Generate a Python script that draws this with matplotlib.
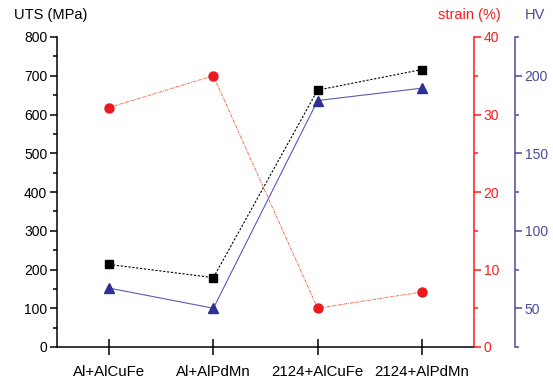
import numpy as np
import matplotlib
matplotlib.use("Agg")
import matplotlib.pyplot as plt
from matplotlib.ticker import MultipleLocator

plt.rcParams['font.family'] = ['Liberation Sans', 'DejaVu Sans']

samples = ["Al+AlCuFe", "Al+AlPdMn", "2124+AlCuFe", "2124+AlPdMn"]
uts = [213, 179, 663, 716]
strain = [30.9, 35.0, 5.0, 7.1]
hv = [63, 50, 184, 192]

red = '#ff1a1a'
blue = '#4b4ba0'

fig = plt.figure(figsize=(5.53, 3.80), dpi=100)
ax = fig.add_axes([57/553, 33/380, (474-57)/553, (347-37)/380])
x = np.arange(len(samples))

ax.plot(x, uts, color='black', ls=(0, (2, 1.5)), lw=0.8, marker='s', ms=5.5, zorder=3)
ax.set_xlim(-0.5, 3.5)
ax.set_ylim(0, 800)
ax.yaxis.set_major_locator(MultipleLocator(100))
ax.yaxis.set_minor_locator(MultipleLocator(50))
ax.set_xticks(x)
ax.set_xticklabels(samples, fontsize=10.8)
ax.tick_params(axis='x', direction='inout', length=12, width=1.1, pad=7)
ax.tick_params(axis='y', which='major', direction='out', length=5, width=1.1, labelsize=10, pad=2)
ax.tick_params(axis='y', which='minor', direction='out', length=3, width=1.1)
ax.spines['top'].set_visible(False)
ax.spines['right'].set_visible(False)
for s in ['left', 'bottom']:
    ax.spines[s].set_linewidth(1.1)

ax2 = ax.twinx()
ax2.plot(x, strain, color='#f26a4a', ls=(0, (3, 1, 1, 1)), lw=0.7, zorder=2)
ax2.plot(x, strain, ls='none', marker='o', ms=6.5, color='#e8191f', zorder=3)
ax2.set_ylim(0, 40)
ax2.yaxis.set_major_locator(MultipleLocator(10))
ax2.yaxis.set_minor_locator(MultipleLocator(5))
ax2.tick_params(axis='y', which='major', colors=red, direction='out', length=5, width=1.1, labelsize=10, pad=2)
ax2.tick_params(axis='y', which='minor', colors=red, direction='out', length=3, width=1.1)
ax2.spines['right'].set_color(red)
ax2.spines['right'].set_linewidth(1.1)
for s in ['top', 'left', 'bottom']:
    ax2.spines[s].set_visible(False)

ax3 = ax.twinx()
ax3.spines['right'].set_position(('axes', (515-57)/(474-57)))
ax3.plot(x, hv, color='#5a5ab4', lw=0.8, marker='^', ms=7, mfc='#2e3192', mec='#2e3192', zorder=3)
ax3.set_ylim(25, 225)
ax3.yaxis.set_major_locator(MultipleLocator(50))
ax3.yaxis.set_minor_locator(MultipleLocator(50, offset=25))
ax3.tick_params(axis='y', which='major', colors=blue, direction='out', length=5, width=1.1, labelsize=10, pad=2)
ax3.tick_params(axis='y', which='minor', colors=blue, direction='out', length=3, width=1.1)
ax3.spines['right'].set_color(blue)
ax3.spines['right'].set_linewidth(1.1)
for s in ['top', 'left', 'bottom']:
    ax3.spines[s].set_visible(False)

fig.text(14/553, 1 - 15/380, "UTS (MPa)", fontsize=10.5, va='center', ha='left')
fig.text(501/553, 1 - 15/380, "strain (%)", fontsize=10.5, va='center', ha='right', color=red)
fig.text(525/553, 1 - 15/380, "HV", fontsize=10.5, va='center', ha='left', color=blue)

fig.savefig("out.png", dpi=100)
